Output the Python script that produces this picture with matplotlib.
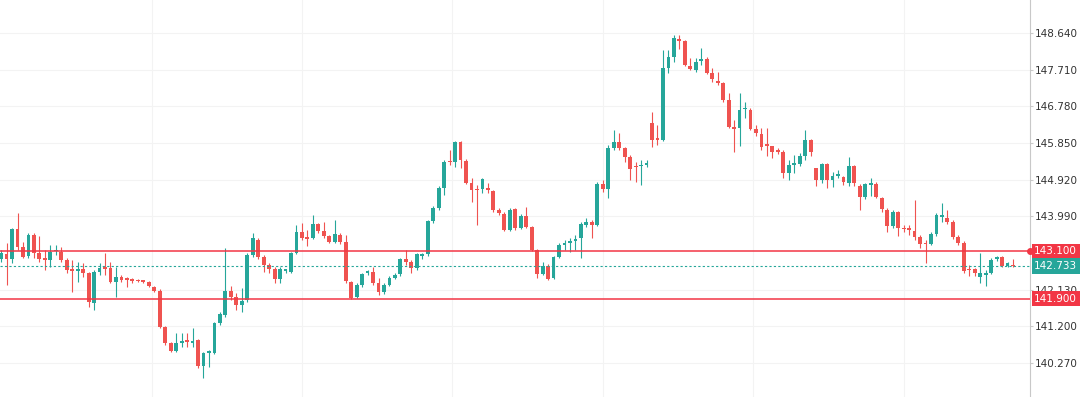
import numpy as np
import matplotlib.pyplot as plt
import matplotlib.transforms as mtransforms

# OHLC values, one candle per entry
opens = [
    142.90, 143.04, 142.91, 143.67, 143.22, 142.99, 143.52, 143.06, 142.91, 142.89,
    143.11, 143.09, 142.89, 142.63, 142.61, 142.66, 142.56, 141.80, 142.58, 142.68,
    142.68, 142.33, 142.45, 142.40, 142.40, 142.38, 142.35, 142.33, 142.20, 142.10,
    141.19, 140.78, 140.58, 140.78, 140.83, 140.78, 140.86, 140.20, 140.53, 140.53,
    141.29, 141.49, 142.10, 141.95, 141.75, 141.87, 143.01, 143.39, 142.96, 142.76,
    142.66, 142.40, 142.61, 142.58, 143.06, 143.60, 143.44, 143.44, 143.80, 143.62,
    143.50, 143.34, 143.52, 143.34, 142.33, 141.95, 142.25, 142.56, 142.58, 142.30,
    142.07, 142.25, 142.43, 142.53, 142.91, 142.84, 142.68, 142.99, 143.04, 143.88,
    144.21, 144.71, 145.40, 145.37, 145.88, 145.40, 144.84, 144.69, 144.69, 144.71,
    144.64, 144.15, 144.05, 143.65, 144.18, 143.70, 144.00, 143.72, 143.14, 142.53,
    142.73, 142.43, 142.96, 143.27, 143.32, 143.37, 143.44, 143.77, 143.85, 143.77,
    144.81, 144.69, 145.73, 145.88, 145.73, 145.50, 145.27, 145.27, 145.30, 146.36,
    145.95, 145.93, 147.75, 148.03, 148.49, 148.44, 147.81, 147.70, 147.93, 147.98,
    147.63, 147.43, 147.38, 146.94, 146.24, 146.24, 146.71, 146.69, 146.21, 146.08,
    145.80, 145.78, 145.65, 145.63, 145.09, 145.30, 145.32, 145.52, 145.93, 145.22,
    144.91, 145.32, 144.91, 145.02, 144.99, 144.84, 145.27, 144.76, 144.48, 144.79,
    144.81, 144.46, 144.15, 143.75, 144.10, 143.70, 143.67, 143.62, 143.47, 143.32,
    143.29, 143.55, 143.98, 143.95, 143.85, 143.47, 143.32, 142.66, 142.66, 142.46,
    142.51, 142.56, 142.91, 142.96, 142.73, 142.76]
closes = [
    143.06, 142.91, 143.67, 143.22, 142.96, 143.52, 143.06, 142.91, 142.89, 143.09,
    143.14, 142.89, 142.63, 142.61, 142.63, 142.56, 141.82, 142.58, 142.68, 142.66,
    142.33, 142.45, 142.38, 142.38, 142.35, 142.35, 142.33, 142.23, 142.10, 141.19,
    140.78, 140.58, 140.78, 140.83, 140.81, 140.83, 140.20, 140.53, 140.55, 141.29,
    141.52, 142.10, 141.95, 141.75, 141.85, 143.01, 143.44, 142.96, 142.76, 142.66,
    142.40, 142.66, 142.63, 143.06, 143.60, 143.44, 143.42, 143.80, 143.62, 143.50,
    143.34, 143.55, 143.34, 142.35, 141.92, 142.25, 142.53, 142.58, 142.30, 142.07,
    142.25, 142.43, 142.51, 142.91, 142.84, 142.68, 143.04, 143.01, 143.88, 144.21,
    144.71, 145.37, 145.37, 145.88, 145.42, 144.84, 144.66, 144.66, 144.94, 144.66,
    144.15, 144.08, 143.65, 144.15, 143.70, 144.00, 143.72, 143.14, 142.53, 142.73,
    142.40, 142.96, 143.27, 143.32, 143.34, 143.39, 143.80, 143.85, 143.77, 144.81,
    144.69, 145.73, 145.88, 145.73, 145.50, 145.19, 145.24, 145.30, 145.35, 145.93,
    145.93, 147.75, 148.03, 148.52, 148.44, 147.83, 147.73, 147.91, 147.98, 147.63,
    147.48, 147.38, 146.94, 146.26, 146.21, 146.69, 146.74, 146.21, 146.10, 145.75,
    145.78, 145.63, 145.63, 145.09, 145.30, 145.32, 145.52, 145.93, 145.63, 144.91,
    145.32, 144.91, 145.02, 145.04, 144.86, 145.27, 144.84, 144.48, 144.81, 144.81,
    144.48, 144.18, 143.75, 144.10, 143.70, 143.67, 143.65, 143.47, 143.29, 143.29,
    143.55, 144.03, 144.00, 143.85, 143.47, 143.32, 142.61, 142.63, 142.56, 142.56,
    142.53, 142.89, 142.96, 142.73, 142.81, 142.733]
highs = [
    143.14, 143.32, 143.70, 144.08, 143.34, 143.57, 143.57, 143.50, 143.14, 143.27,
    143.27, 143.22, 142.94, 142.89, 142.84, 142.81, 142.58, 142.63, 142.81, 143.06,
    142.84, 142.71, 142.51, 142.45, 142.43, 142.40, 142.38, 142.35, 142.23, 142.15,
    141.21, 140.81, 141.04, 141.04, 141.04, 141.16, 140.88, 140.55, 140.60, 141.32,
    141.57, 143.19, 142.23, 142.05, 142.18, 143.06, 143.57, 143.44, 143.01, 142.81,
    142.71, 142.71, 142.66, 143.09, 143.77, 143.82, 143.65, 144.03, 143.82, 143.85,
    143.52, 143.90, 143.57, 143.52, 142.35, 142.30, 142.56, 142.63, 142.71, 142.43,
    142.30, 142.48, 142.56, 142.94, 143.14, 142.89, 143.06, 143.06, 143.90, 144.26,
    144.76, 145.42, 145.68, 145.90, 145.90, 145.45, 144.96, 144.79, 144.96, 144.84,
    144.66, 144.20, 144.10, 144.20, 144.20, 144.05, 144.23, 143.75, 143.17, 142.84,
    142.78, 142.99, 143.32, 143.39, 143.44, 143.52, 143.85, 143.95, 143.90, 144.86,
    144.91, 145.80, 146.18, 146.10, 145.75, 145.55, 145.37, 145.42, 145.42, 146.64,
    146.31, 148.21, 148.21, 148.59, 148.59, 148.47, 148.01, 148.01, 148.26, 148.03,
    147.76, 147.65, 147.40, 147.12, 146.44, 147.12, 146.89, 146.74, 146.31, 146.24,
    146.24, 145.78, 145.73, 145.68, 145.42, 145.55, 145.60, 146.18, 145.95, 145.22,
    145.35, 145.35, 145.12, 145.17, 145.02, 145.50, 145.30, 144.81, 144.84, 144.96,
    144.86, 144.48, 144.20, 144.15, 144.13, 143.77, 143.77, 144.41, 143.52, 143.39,
    143.60, 144.08, 144.33, 144.15, 143.90, 143.52, 143.37, 142.76, 142.68, 143.06,
    142.63, 142.94, 142.99, 142.99, 142.84, 142.91]
lows = [
    142.84, 142.25, 142.81, 143.14, 142.94, 142.94, 142.94, 142.84, 142.63, 142.71,
    143.01, 142.84, 142.56, 142.07, 142.33, 142.45, 141.69, 141.62, 142.51, 142.51,
    142.30, 141.95, 142.33, 142.20, 142.30, 142.33, 142.30, 142.20, 142.07, 141.16,
    140.73, 140.55, 140.55, 140.68, 140.68, 140.68, 140.15, 139.89, 140.17, 140.50,
    141.24, 141.44, 141.87, 141.62, 141.57, 141.82, 142.96, 142.91, 142.58, 142.56,
    142.30, 142.30, 142.56, 142.56, 143.04, 143.39, 143.24, 143.42, 143.57, 143.44,
    143.32, 143.32, 143.29, 142.30, 141.89, 141.92, 142.20, 142.51, 142.25, 142.00,
    142.02, 142.23, 142.40, 142.48, 142.76, 142.56, 142.63, 142.91, 142.99, 143.82,
    144.15, 144.53, 145.30, 145.24, 145.22, 144.81, 144.36, 143.77, 144.59, 144.59,
    144.10, 144.03, 143.62, 143.62, 143.65, 143.67, 143.70, 143.11, 142.43, 142.51,
    142.38, 142.40, 142.94, 143.14, 143.09, 143.14, 142.94, 143.72, 143.44, 143.75,
    144.61, 144.46, 145.68, 145.68, 145.37, 144.91, 144.86, 144.79, 145.24, 145.75,
    145.80, 145.90, 147.63, 147.91, 148.24, 147.81, 147.70, 147.65, 147.83, 147.60,
    147.40, 147.32, 146.89, 146.24, 145.63, 145.78, 146.49, 146.18, 146.03, 145.68,
    145.52, 145.47, 145.57, 144.96, 144.91, 145.09, 145.27, 145.42, 145.52, 144.76,
    144.84, 144.71, 144.74, 144.96, 144.79, 144.76, 144.76, 144.15, 144.43, 144.51,
    144.46, 144.10, 143.60, 143.70, 143.50, 143.60, 143.52, 143.39, 143.19, 142.81,
    143.27, 143.50, 143.85, 143.80, 143.42, 143.27, 142.56, 142.48, 142.48, 142.30,
    142.23, 142.53, 142.86, 142.71, 142.71, 142.71]

resistance = 143.100
support = 141.900
last_price = 142.733
tick_vals = [140.270, 141.200, 142.130, 143.990,
             144.920, 145.850, 146.780, 147.710, 148.640]
tick_labels = ['140.270', '141.200', '142.130', '143.990',
               '144.920', '145.850', '146.780', '147.710', '148.640']

up_col = '#26a69a'
down_col = '#ef5350'
line_red = '#f23645'

o = np.array(opens)
c = np.array(closes)
h = np.array(highs)
l = np.array(lows)
x = np.arange(len(o))
cols = np.where(c >= o, up_col, down_col)

fig = plt.figure(figsize=(10.8, 3.97), dpi=100)
ax = fig.add_axes([0, 0, 1030 / 1080, 1])

# grid
ax.set_yticks(tick_vals)
ax.set_yticklabels(tick_labels)
ax.set_xticks([27.5, 55, 82.5, 110, 137.5, 165])
ax.grid(True, color='#f3f3f3', linewidth=0.8)
ax.set_axisbelow(True)

# candles
ax.vlines(x, l, h, colors=cols, linewidth=0.8, zorder=2)
body_h = np.maximum(np.abs(c - o), 0.035)
ax.bar(x, body_h, bottom=np.minimum(o, c), width=0.7, color=cols,
       linewidth=0, zorder=3)

# levels
ax.axhline(resistance, color=line_red, linewidth=1.1, zorder=4)
ax.axhline(support, color=line_red, linewidth=1.1, zorder=4)
ax.axhline(last_price, color=up_col, linewidth=0.8, linestyle=(0, (2, 2)),
           zorder=4)

ax.set_xlim(-0.2, 188.1)
ax.set_ylim(139.41, 149.477)

ax.yaxis.tick_right()
ax.tick_params(axis='y', length=2, color='#cccccc', labelsize=7.5,
               labelcolor='#333333', pad=1.5)
ax.tick_params(axis='x', length=0, labelbottom=False)
for s in ['left', 'top', 'bottom']:
    ax.spines[s].set_visible(False)
ax.spines['right'].set_color('#c8c8c8')
ax.spines['right'].set_linewidth(0.8)

# price tags on the axis
trans = mtransforms.blended_transform_factory(ax.transAxes, ax.transData)
ax.plot([1.0], [resistance], 'o', color=line_red, markersize=4,
        transform=trans, clip_on=False, zorder=6)
for val, col in [(resistance, line_red), (last_price, up_col),
                 (support, line_red)]:
    ax.text(1.004, val, '%.3f' % val, transform=trans, ha='left',
            va='center', color='white', fontsize=7.5, zorder=7,
            bbox=dict(boxstyle='square,pad=0.25', fc=col, ec='none'))

fig.savefig('out.png', dpi=100, facecolor='white')
